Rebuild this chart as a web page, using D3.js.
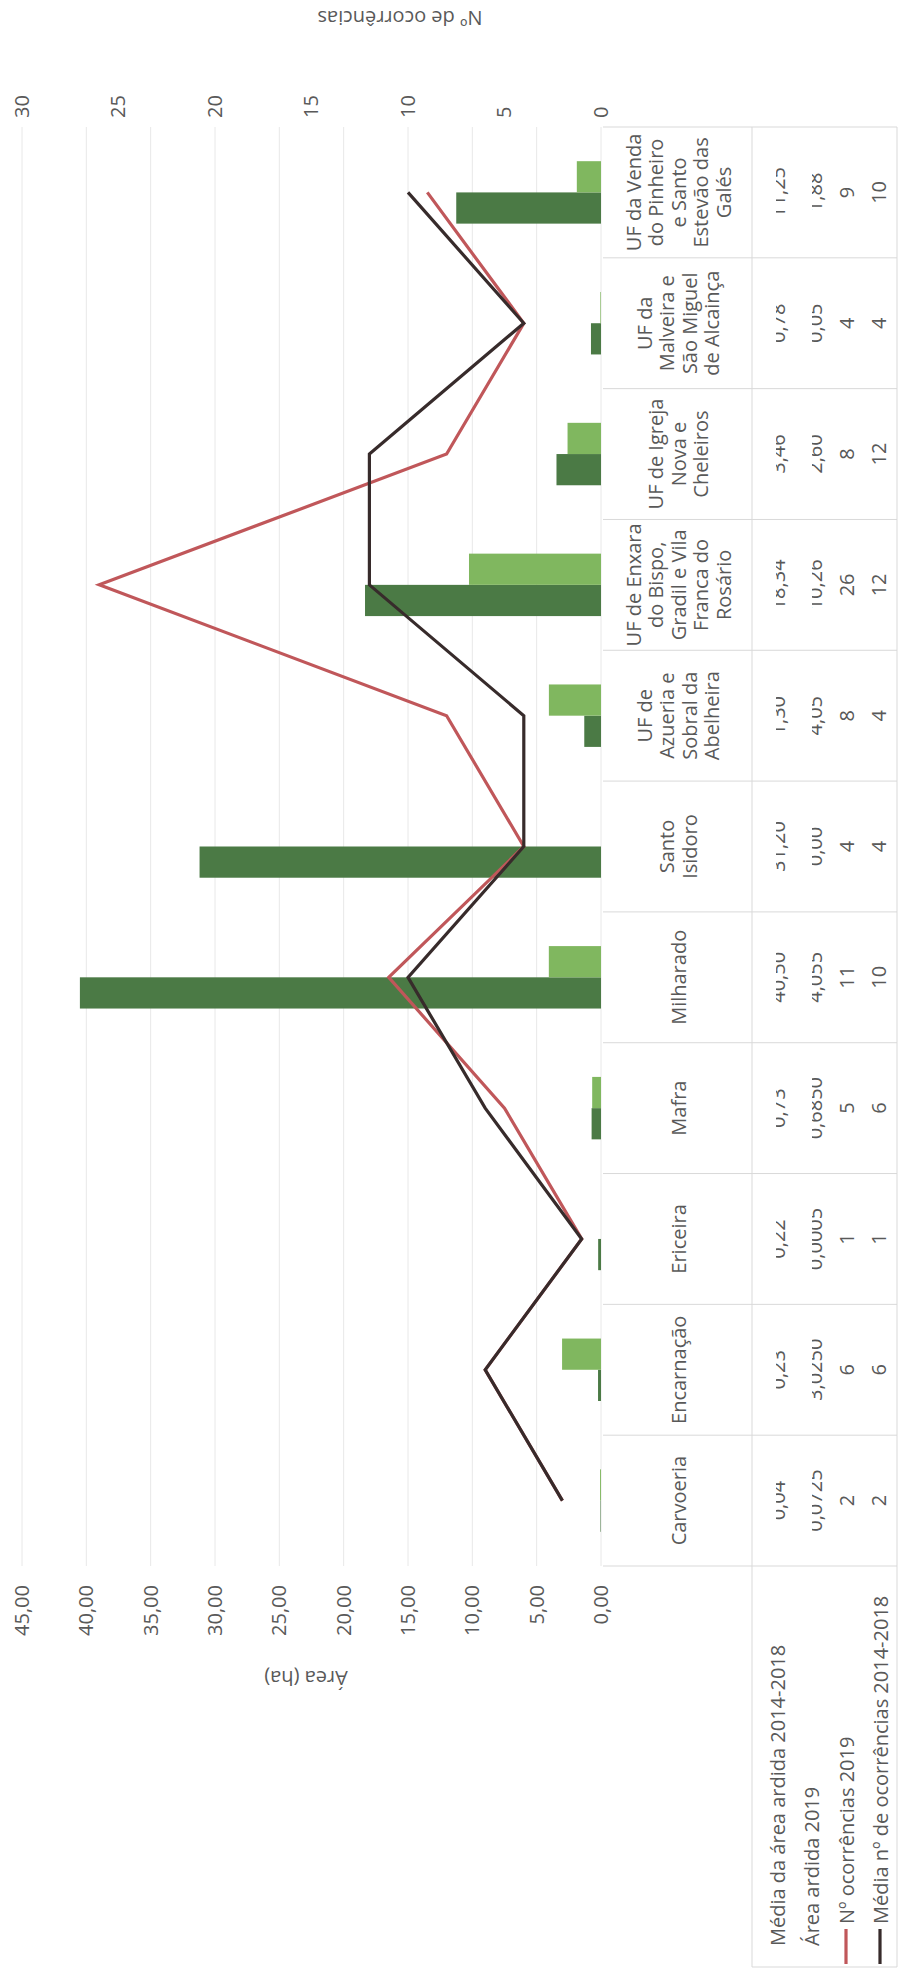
<!DOCTYPE html>
<html><head><meta charset="utf-8">
<script src="https://cdn.jsdelivr.net/npm/d3@7"></script>
<style>body{margin:0;background:#fff}svg{display:block}</style>
</head><body>
<script>
// ---- data ----
const categories = [["Carvoeria"],["Encarnação"],["Ericeira"],["Mafra"],["Milharado"],["Santo","Isidoro"],
  ["UF de","Azueria e","Sobral da","Abelheira"],["UF de Enxara","do Bispo,","Gradil e Vila","Franca do","Rosário"],
  ["UF de Igreja","Nova e","Cheleiros"],["UF da","Malveira e","São Miguel","de Alcainça"],
  ["UF da Venda","do Pinheiro","e Santo","Estevão das","Galés"]];
const mediaArea = [0.04,0.23,0.22,0.73,40.50,31.20,1.30,18.34,3.46,0.78,11.25];
const mediaAreaLabels = ["0,04","0,23","0,22","0,73","40,50","31,20","1,30","18,34","3,46","0,78","11,25"];
const area2019 = [0.0725,3.025,0.0005,0.685,4.055,0.00,4.05,10.26,2.60,0.05,1.88];
const area2019Labels = ["0,0725","3,0250","0,0005","0,6850","4,055","0,00","4,05","10,26","2,60","0,05","1,88"];
const ocorr2019 = [2,6,1,5,11,4,8,26,8,4,9];
const mediaOcorr = [2,6,1,6,10,4,4,12,12,4,10];
const leftTicks = [0,5,10,15,20,25,30,35,40,45];
const rightTicks = [0,5,10,15,20,25,30];
const seriesNames = ["Média da área ardida 2014-2018","Área ardida 2019","Nº ocorrências 2019","Média nº de ocorrências 2014-2018"];
const leftTitle = "Área (ha)";
const rightTitle = "Nº de ocorrências";

// ---- style ----
const C = {dark:"#4b7a45", light:"#80b75f", red:"#c0575a", black:"#372b2b", text:"#595959", grid:"#e8e8e8", table:"#d9d9d9"};
const FONT = "'Open Sans', 'Liberation Sans', sans-serif";
const FS = "20px";
const W = 901, H = 1976;

const svg = d3.select("body").append("svg").attr("width",W).attr("height",H)
  .style("font-family",FONT);
// landscape group: Lx -> page y = H - Lx ; Ly -> page x
const g = svg.append("g").attr("transform",`translate(0,${H}) rotate(-90)`);

const plotL = 410, plotR = 1849, plotT = 22, plotB = 601;
const x = d3.scaleBand().domain(d3.range(categories.length)).range([plotL, plotR]);
const yL = d3.scaleLinear().domain([0,45]).range([plotB, plotT]);
const yR = d3.scaleLinear().domain([0,30]).range([plotB, plotT]);
const cx = i => x(i) + x.bandwidth()/2;
const bw = x.bandwidth()/(2+2.19);

// gridlines
g.append("g").selectAll("line").data(leftTicks).join("line")
  .attr("x1",plotL).attr("x2",plotR).attr("y1",d=>yL(d)).attr("y2",d=>yL(d))
  .attr("stroke",C.grid).attr("stroke-width",1);

// axes (labels only)
const fmt = d => d3.format(".2f")(d).replace(".",",");
const axL = g.append("g").attr("transform",`translate(${plotL-19},0)`)
  .call(d3.axisLeft(yL).tickValues(leftTicks).tickFormat(fmt).tickSize(0).tickPadding(0));
const axR = g.append("g").attr("transform",`translate(${plotR+9},0)`)
  .call(d3.axisRight(yR).tickValues(rightTicks).tickFormat(d3.format("d")).tickSize(0).tickPadding(0));
[axL,axR].forEach(a=>{a.select(".domain").remove();
  a.selectAll("text").attr("fill",C.text).style("font-size",FS).style("font-family",FONT);});

// bars
g.append("g").selectAll("rect").data(mediaArea).join("rect")
  .attr("x",(d,i)=>cx(i)-bw).attr("width",bw).attr("y",d=>yL(d)).attr("height",d=>plotB-yL(d))
  .attr("fill",C.dark);
g.append("g").selectAll("rect").data(area2019).join("rect")
  .attr("x",(d,i)=>cx(i)).attr("width",bw).attr("y",d=>yL(d)).attr("height",d=>plotB-yL(d))
  .attr("fill",C.light);

// lines
const line = d3.line().x((d,i)=>cx(i)).y(d=>yR(d));
g.append("path").datum(ocorr2019).attr("d",line).attr("fill","none").attr("stroke",C.red).attr("stroke-width",3.2);
g.append("path").datum(mediaOcorr).attr("d",line).attr("fill","none").attr("stroke",C.black).attr("stroke-width",3.2);

// axis titles (rotated)
g.append("text").attr("transform",`translate(298,306) rotate(-90)`).attr("text-anchor","middle")
  .attr("dominant-baseline","central").attr("fill",C.text).style("font-size",FS).text(leftTitle);
g.append("text").attr("transform",`translate(1958,400) rotate(-90)`).attr("text-anchor","middle")
  .attr("dominant-baseline","central").attr("fill",C.text).style("font-size",FS).text(rightTitle);

// ---- data table ----
const tT = 603, tHead = 752, tB = 897, legL = 9;
const rowC = [777, 811, 846, 880];
const tg = g.append("g");
tg.selectAll("line.v").data(d3.range(categories.length+1)).join("line").attr("class","v")
  .attr("x1",i=>plotL + i*x.bandwidth()).attr("x2",i=>plotL + i*x.bandwidth())
  .attr("y1",tT).attr("y2",tB).attr("stroke",C.table);
tg.append("line").attr("x1",legL).attr("x2",plotR).attr("y1",tHead).attr("y2",tHead).attr("stroke",C.table);
tg.append("line").attr("x1",legL).attr("x2",plotR).attr("y1",tB).attr("y2",tB).attr("stroke",C.table);
tg.append("line").attr("x1",legL).attr("x2",legL).attr("y1",tHead).attr("y2",tB).attr("stroke",C.table);

// category labels
const lh = 22.5, headC = 678;
categories.forEach((lines,i)=>{
  const t = tg.append("text").attr("text-anchor","middle").attr("fill",C.text).style("font-size",FS);
  lines.forEach((s,k)=>{
    t.append("tspan").attr("x",cx(i)).attr("y",headC + (k-(lines.length-1)/2)*lh).attr("dominant-baseline","central").text(s);
  });
});

// clipped rows (tops cut, as in reference)
const defs = svg.append("defs");
defs.append("clipPath").attr("id","r1").append("rect").attr("x",plotL).attr("width",plotR-plotL).attr("y",776).attr("height",24);
defs.append("clipPath").attr("id","r2").append("rect").attr("x",plotL).attr("width",plotR-plotL).attr("y",812).attr("height",22);
const rowText = (arr, yb, clip) => {
  const gg = tg.append("g"); if (clip) gg.attr("clip-path",`url(#${clip})`);
  gg.selectAll("text").data(arr).join("text").attr("x",(d,i)=>cx(i)).attr("y",yb)
    .attr("text-anchor","middle").attr("fill",C.text).style("font-size",FS).text(d=>d);
};
rowText(mediaAreaLabels, 785, "r1");
rowText(area2019Labels, 822, "r2");
rowText(ocorr2019, 854, null);
rowText(mediaOcorr, 886, null);

// legend column
const keyCol = [null,null,C.red,C.black];
seriesNames.forEach((s,k)=>{
  tg.append("text").attr("x",k<2 ? 30 : 52).attr("y",rowC[k]).attr("dominant-baseline","central")
    .attr("fill",C.text).style("font-size",FS).text(s);
  if (keyCol[k]) tg.append("line").attr("x1",12).attr("x2",47).attr("y1",rowC[k]).attr("y2",rowC[k])
    .attr("stroke",keyCol[k]).attr("stroke-width",3.2);
});
</script>
</body></html>
